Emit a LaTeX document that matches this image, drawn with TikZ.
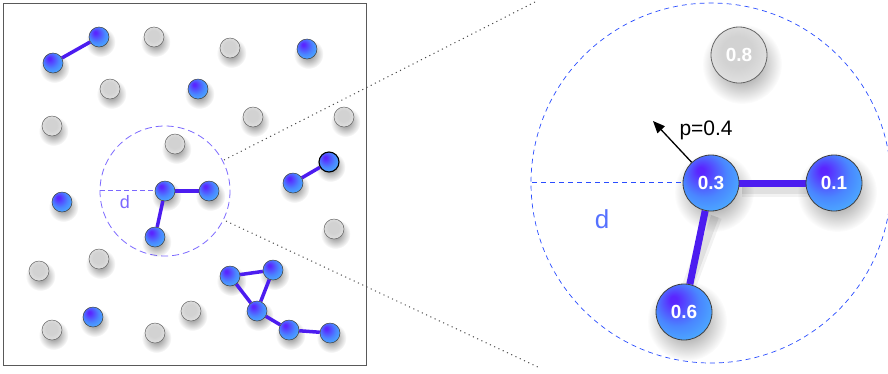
\documentclass[tikz,border=0pt]{standalone}
\usepackage{fontspec}
\setmainfont{Liberation Sans}
\usetikzlibrary{fadings,arrows.meta}
\pgfdeclarelayer{back}
\pgfdeclarelayer{shadows}
\pgfdeclarelayer{edges}
\pgfsetlayers{back,shadows,edges,main}
\definecolor{bc}{HTML}{5A26FF}
\definecolor{bm}{HTML}{4A86FF}
\definecolor{bo}{HTML}{4CCBFF}
\definecolor{gc}{HTML}{D2D2D2}
\definecolor{gm}{HTML}{E8E8E8}
\definecolor{go}{HTML}{A8A8A8}
\definecolor{edgec}{HTML}{4C1CF0}
\definecolor{lcirc}{HTML}{7B68FF}
\definecolor{rcirc}{HTML}{2A4DFF}
\pgfdeclareradialshading{bluenode}{\pgfpoint{-10bp}{12bp}}{color(0bp)=(bc);color(3bp)=(bc);color(20bp)=(bm);color(42bp)=(bo);color(50bp)=(bo)}
\pgfdeclareradialshading{graynode}{\pgfpoint{-2bp}{4bp}}{color(0bp)=(gc);color(14bp)=(gc);color(34bp)=(gm);color(50bp)=(go)}
\tikzfading[name=softshadow, inner color=transparent!50, outer color=transparent!100]
\tikzset{
  bnode/.style={circle, draw=black!75, line width=0.5pt, minimum size=20pt, inner sep=0pt, shading=bluenode},
  gnode/.style={circle, draw=black!60, line width=0.5pt, minimum size=20pt, inner sep=0pt, shading=graynode},
  bignode/.style={minimum size=56pt, line width=0.8pt, font=\fontsize{19}{19}\selectfont\bfseries, text=white},
  shadowfill/.style={fill=black, path fading=softshadow},
  ledge/.style={draw=edgec, line width=3.5pt},
  redge/.style={draw=edgec, line width=7pt},
  edgeshadowa/.style={draw=black, opacity=0.05, line width=14pt},
  edgeshadowb/.style={draw=black, opacity=0.07, line width=8pt},
  dotline/.style={draw=black!70, line width=1pt, dash pattern=on 1.1pt off 3.6pt},
  lradius/.style={draw=lcirc, line width=1pt, dash pattern=on 5pt off 3pt},
  rradius/.style={draw=rcirc, line width=1pt, dash pattern=on 5pt off 4pt},
}
\begin{document}
\begin{tikzpicture}[x=1pt,y=-1pt]
\useasboundingbox (0,0) rectangle (888,373);
% ---------- nodes ----------
\foreach \x/\y [count=\i] in {154/37,230/48,110/89,52/126,253/117,344/117,175/144,334/229,99/259,39/271,191/311,52/330,155/333}
  \node[gnode] (g\i) at (\x,\y) {};
\node[bnode] (a1) at (53,63) {};
\node[bnode] (a2) at (99,37) {};
\node[bnode] (a3) at (307,49) {};
\node[bnode] (a4) at (198,89) {};
\node[bnode] (a5) at (62,202) {};
\node[bnode] (c0) at (165,191) {};
\node[bnode] (c1) at (209,191) {};
\node[bnode] (c2) at (155,237) {};
\node[bnode] (e1) at (293,183) {};
\node[bnode, draw=black, line width=1.1pt] (e2) at (329,162) {};
\node[bnode] (a6) at (93,317) {};
\node[bnode] (t1) at (230,276) {};
\node[bnode] (t2) at (273,270) {};
\node[bnode] (t3) at (257,311) {};
\node[bnode] (t4) at (289,330) {};
\node[bnode] (t5) at (330,333) {};
\node[gnode, bignode] (n08) at (739,55) {0.8};
\node[bnode, bignode] (n03) at (711,183) {0.3};
\node[bnode, bignode] (n01) at (834,183) {0.1};
\node[bnode, bignode] (n06) at (684,312) {0.6};
\node[text=lcirc, font=\fontsize{18}{18}\selectfont] (dl) at (125,202) {d};
\node[font=\fontsize{21}{21}\selectfont, anchor=west] (plab) at (676,130) {p=0.4};
\node[text=rcirc!80!white, font=\fontsize{26}{26}\selectfont] (dr) at (602,219) {d};
% ---------- back layer ----------
\begin{pgfonlayer}{back}
\fill[white] (0,0) rectangle (888,373);
\draw[black!65, line width=0.9pt] (3,3) rectangle (366,365);
\coordinate (u1) at (224,160); \coordinate (u2) at (535,2);
\coordinate (l1) at (226,221); \coordinate (l2) at (540,368);
\draw[dotline] (u1) -- (u2);
\draw[dotline] (l1) -- (l2);
\draw[draw=lcirc, line width=0.8pt, dash pattern=on 7pt off 4pt] (c0.center) circle[radius=65];
\draw[draw=rcirc, line width=0.7pt, dash pattern=on 5pt off 4pt] (n03.center) circle[radius=180];
\end{pgfonlayer}
% ---------- shadows ----------
\begin{pgfonlayer}{shadows}
\foreach \n in {g1,g2,g3,g4,g5,g6,g7,g8,g9,g10,g11,g12,g13,a1,a2,a3,a4,a5,a6,c0,c1,c2,e1,e2,t1,t2,t3,t4,t5}
  \fill[shadowfill] ([shift={(1.5,5)}]\n.center) circle[radius=15];
\foreach \n in {n08,n03,n01,n06}
  \fill[shadowfill] ([shift={(3,9)}]\n.center) circle[radius=40];
\draw[edgeshadowa] ([shift={(3,7)}]n03.east) -- ([shift={(3,7)}]n01.west);
\draw[edgeshadowb] ([shift={(3,7)}]n03.east) -- ([shift={(3,7)}]n01.west);
\draw[edgeshadowa] ([shift={(4,5)}]n03.south) -- ([shift={(4,5)}]n06.north);
\draw[edgeshadowb] ([shift={(4,5)}]n03.south) -- ([shift={(4,5)}]n06.north);
\end{pgfonlayer}
% ---------- edges ----------
\begin{pgfonlayer}{edges}
\coordinate (lcl) at (100,190.5);
\draw[lradius] (lcl) -- (lcl -| c0.west);
\coordinate (rcl) at (532,182.5);
\draw[rradius] (rcl) -- (rcl -| n03.west);
\draw[ledge] (a1) -- (a2);
\draw[ledge] (c0) -- (c1);
\draw[ledge] (c0) -- (c2);
\draw[ledge] (e1) -- (e2);
\draw[ledge] (t1) -- (t2);
\draw[ledge] (t1) -- (t3);
\draw[ledge] (t2) -- (t3);
\draw[ledge] (t3) -- (t4);
\draw[ledge] (t4) -- (t5);
\draw[redge] (n03) -- (n01);
\draw[redge] (n03) -- (n06);
\end{pgfonlayer}
\coordinate (ptip) at (653,121);
\draw[line width=1.3pt, -{Triangle[length=12pt,width=10pt]}] (n03) -- (ptip);
\end{tikzpicture}
\end{document}
